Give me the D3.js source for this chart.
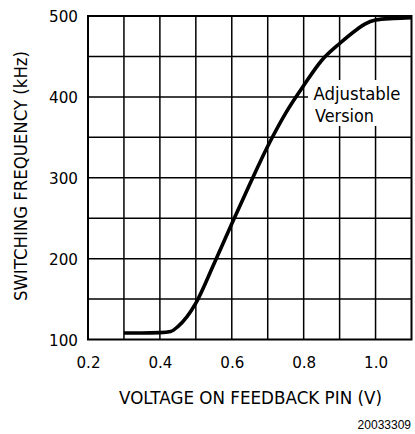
<!DOCTYPE html>
<html><head><meta charset="utf-8">
<script src="https://cdn.jsdelivr.net/npm/d3@7"></script>
<style>html,body{margin:0;padding:0;background:#fff;}svg{display:block;}</style>
</head><body>
<script>
const voltage = [0.30, 0.35, 0.40, 0.43, 0.45, 0.475, 0.50, 0.55, 0.60, 0.65, 0.70, 0.75, 0.80, 0.85, 0.90, 0.95, 0.97, 1.00, 1.05, 1.10];
const frequency = [108, 108, 108.5, 110, 116, 128, 145, 193, 243, 292, 339, 380, 414, 445, 466, 484, 490, 495, 497, 498];
const xTicks = [0.2, 0.4, 0.6, 0.8, 1.0];
const xGrid = [0.3, 0.4, 0.5, 0.6, 0.7, 0.8, 0.9, 1.0];
const yTicks = [100, 200, 300, 400, 500];
const yGrid = [150, 200, 250, 300, 350, 400, 450];
const xTitle = "VOLTAGE ON FEEDBACK PIN (V)";
const yTitle = "SWITCHING FREQUENCY (kHz)";
const noteLines = ["Adjustable", "Version"];
const figId = "20033309";

const W = 415, H = 434;
const svg = d3.select("body").append("svg").attr("width", W).attr("height", H);
const x = d3.scaleLinear().domain([0.2, 1.1]).range([88, 411.5]);
const y = d3.scaleLinear().domain([100, 500]).range([339.5, 16]);
const font = "'DejaVu Sans', sans-serif";

// grid
svg.append("g").selectAll("line").data(xGrid).join("line")
  .attr("x1", d => x(d)).attr("x2", d => x(d)).attr("y1", y(500)).attr("y2", y(100))
  .attr("stroke", "#000").attr("stroke-width", 1.5);
svg.append("g").selectAll("line").data(yGrid).join("line")
  .attr("y1", d => y(d)).attr("y2", d => y(d)).attr("x1", x(0.2)).attr("x2", x(1.1))
  .attr("stroke", "#000").attr("stroke-width", 1.5);

// annotation background
svg.append("rect").attr("x", 308).attr("y", 80).attr("width", x(1.1) - 308).attr("height", 46).attr("fill", "#fff");

// frame
svg.append("rect").attr("x", x(0.2)).attr("y", y(500)).attr("width", x(1.1) - x(0.2)).attr("height", y(100) - y(500))
  .attr("fill", "none").attr("stroke", "#000").attr("stroke-width", 2);

// curve
const line = d3.line().x((d, i) => x(voltage[i])).y(d => y(d)).curve(d3.curveMonotoneX);
svg.append("path").datum(frequency).attr("d", line).attr("fill", "none")
  .attr("stroke", "#000").attr("stroke-width", 3.6).attr("stroke-linejoin", "round");

// axes labels
const xAxis = d3.axisBottom(x).tickValues(xTicks).tickFormat(d3.format(".1f")).tickSize(0).tickPadding(0);
const gx = svg.append("g").attr("transform", `translate(0,${y(100)})`).call(xAxis);
gx.select(".domain").remove();
gx.selectAll("text").attr("dy", null).attr("y", 28.5).attr("font-family", font).attr("font-size", 16)
  .attr("textLength", 24).attr("lengthAdjust", "spacingAndGlyphs").attr("fill", "#000");

const yAxis = d3.axisLeft(y).tickValues(yTicks).tickFormat(d3.format("d")).tickSize(0).tickPadding(0);
const gy = svg.append("g").attr("transform", `translate(78,0)`).call(yAxis);
gy.select(".domain").remove();
gy.selectAll("text").attr("x", 0).attr("dy", "0.36em").attr("font-family", font).attr("font-size", 16)
  .attr("textLength", 29).attr("lengthAdjust", "spacingAndGlyphs").attr("fill", "#000");

// titles
svg.append("text").attr("x", 119).attr("y", 404).attr("font-family", font).attr("font-size", 17)
  .attr("textLength", 263).attr("lengthAdjust", "spacingAndGlyphs").text(xTitle);
svg.append("text").attr("transform", "translate(26.5,301) rotate(-90)").attr("font-family", font).attr("font-size", 17)
  .attr("textLength", 250).attr("lengthAdjust", "spacingAndGlyphs").text(yTitle);

// note
svg.append("text").attr("x", 313.5).attr("y", 100).attr("font-family", font).attr("font-size", 17)
  .attr("textLength", 87).attr("lengthAdjust", "spacingAndGlyphs").text(noteLines[0]);
svg.append("text").attr("x", 315).attr("y", 121.5).attr("font-family", font).attr("font-size", 17)
  .attr("textLength", 59).attr("lengthAdjust", "spacingAndGlyphs").text(noteLines[1]);

// figure id
svg.append("text").attr("x", 411).attr("y", 428.5).attr("text-anchor", "end")
  .attr("font-family", "'Liberation Sans', Arial, sans-serif").attr("font-size", 12).attr("font-weight", 500).text(figId);
</script>
</body></html>
